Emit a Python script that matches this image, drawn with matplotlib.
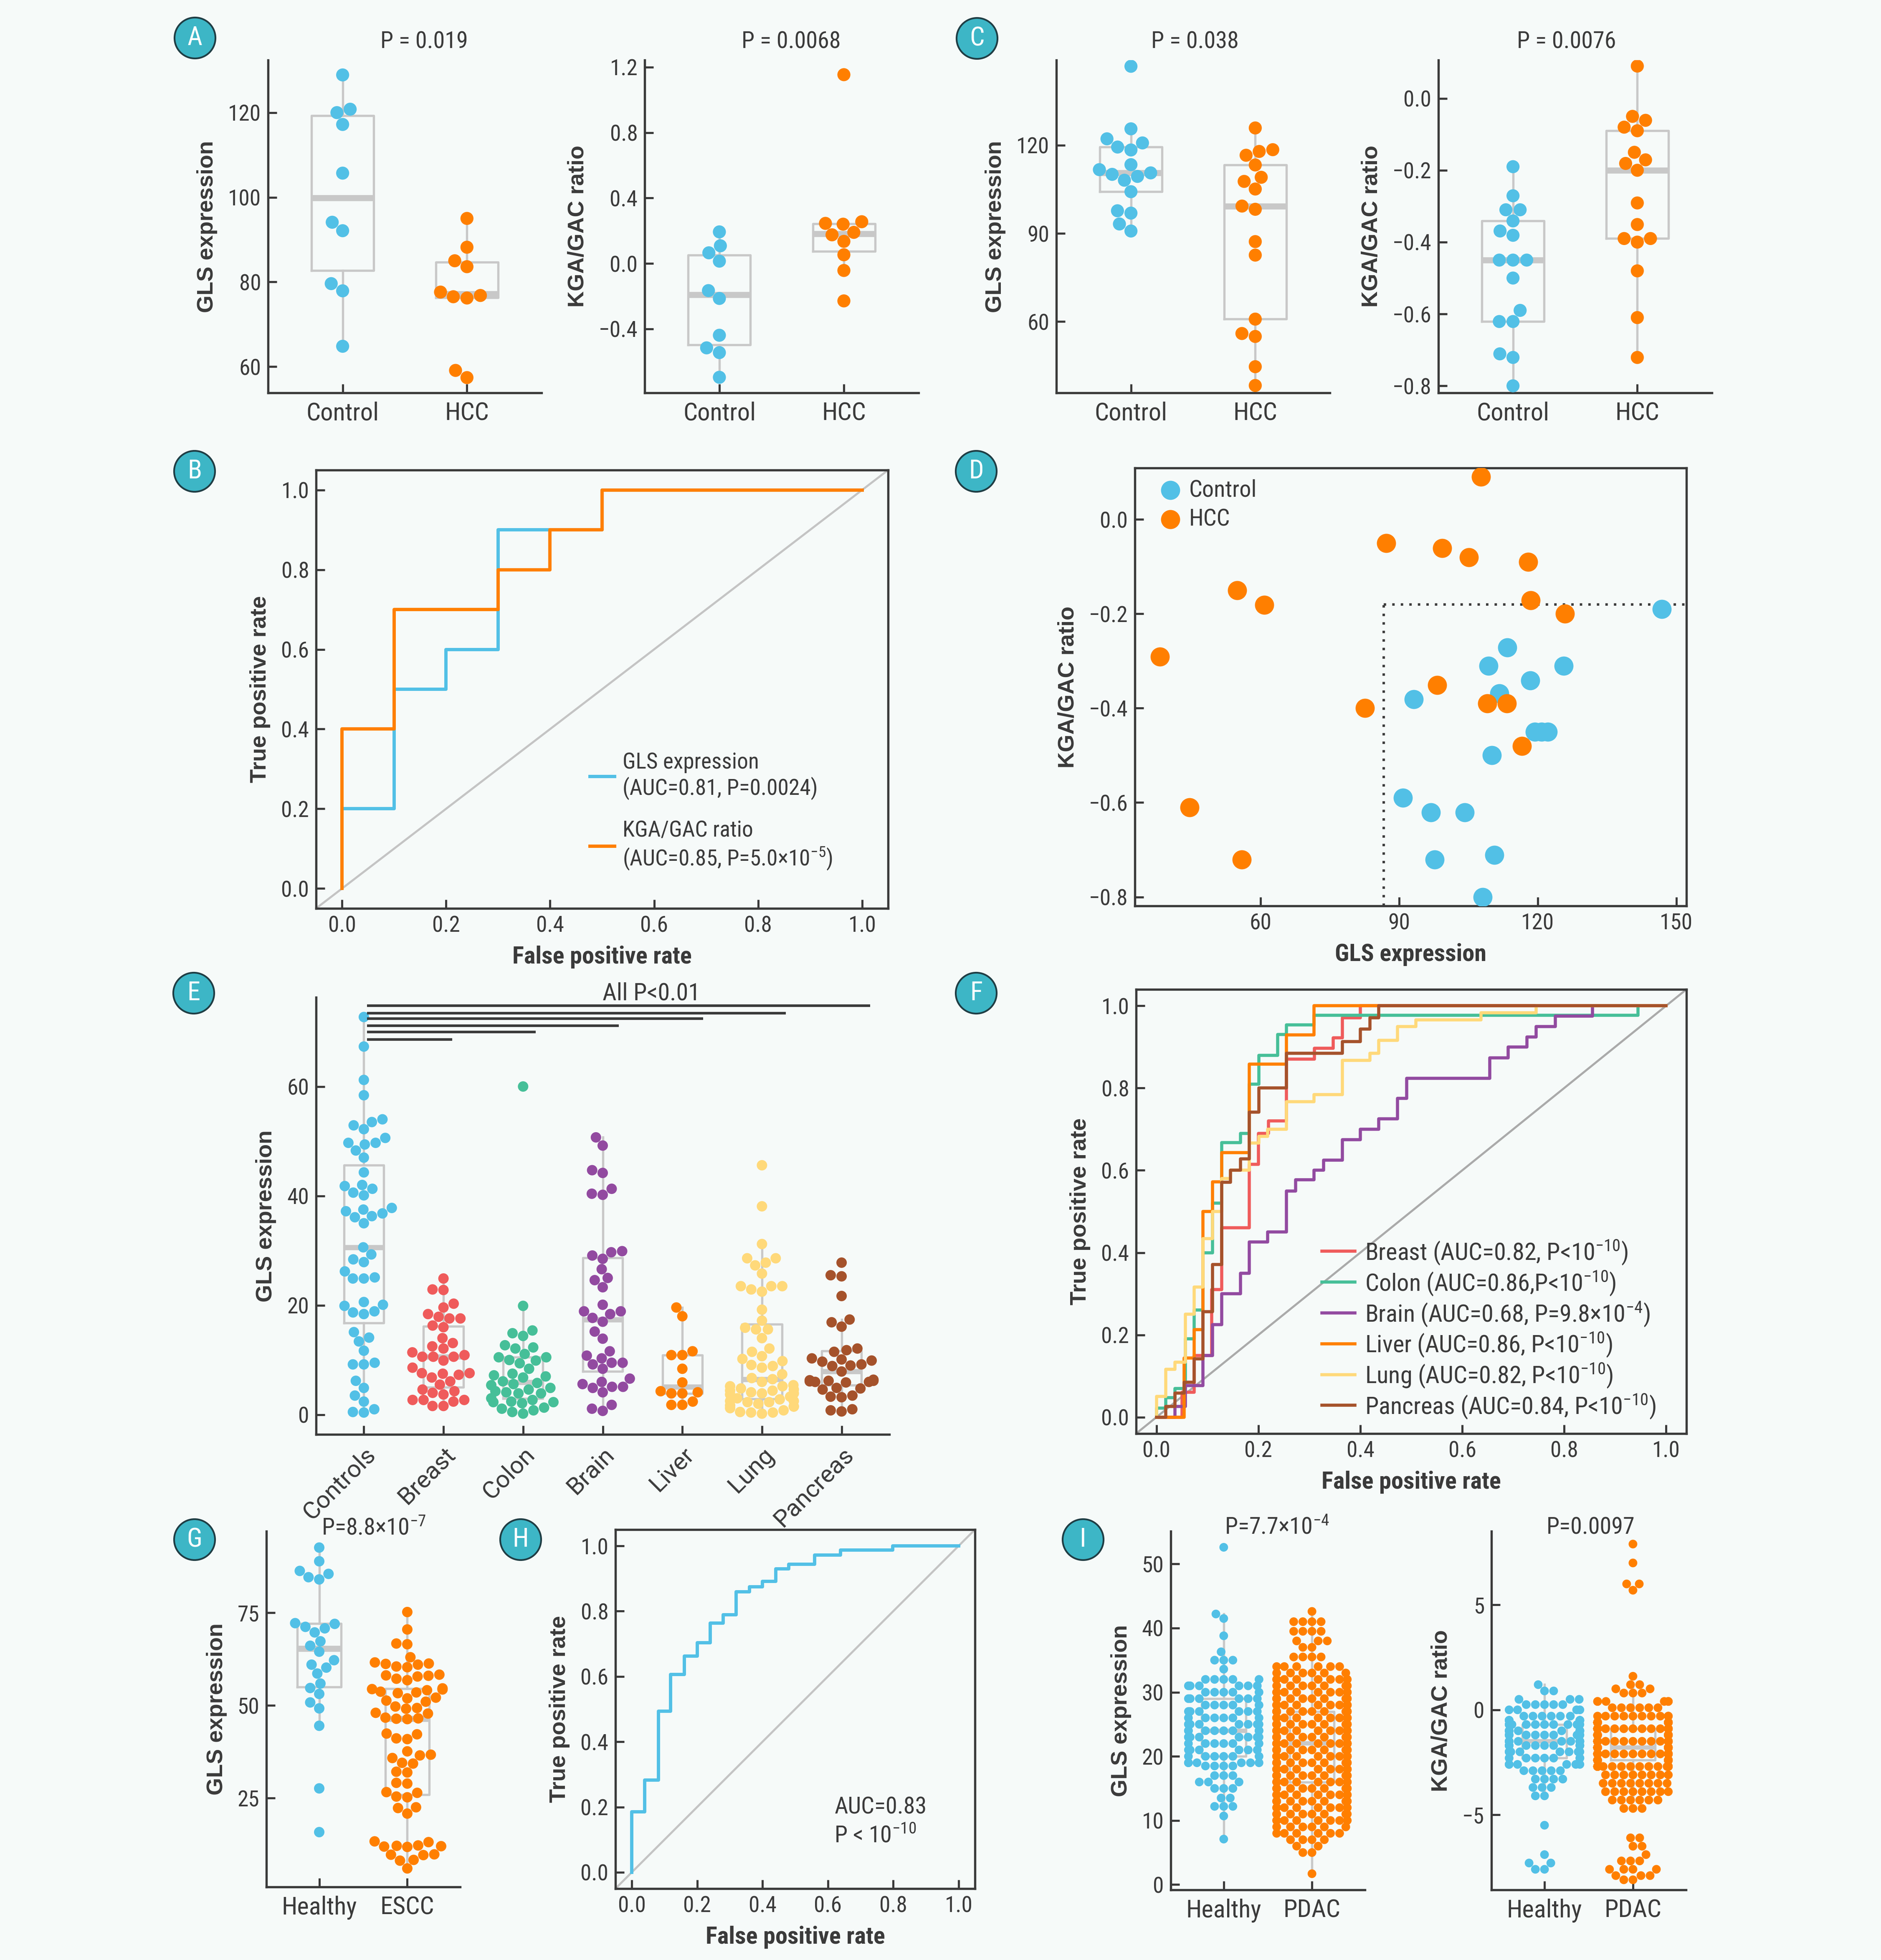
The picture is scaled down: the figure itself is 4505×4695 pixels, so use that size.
import numpy as np
import matplotlib
matplotlib.use('Agg')
import matplotlib.pyplot as plt
from matplotlib import font_manager
from matplotlib.patches import Ellipse
from matplotlib.ticker import FuncFormatter
import seaborn as sns
import warnings

warnings.filterwarnings('ignore')

# ---------------- data ----------------
# A: HCC cohort 1
a_gls_control = [128.9, 120.8, 120.0, 117.2, 105.7, 94.1, 92.1, 79.6, 77.9, 64.8]
a_gls_hcc = [95.0, 88.2, 85.0, 83.6, 77.6, 76.8, 76.5, 76.2, 59.1, 57.4]
a_ratio_control = [0.193, 0.108, 0.065, 0.014, -0.166, -0.214, -0.439, -0.516, -0.545, -0.696]
a_ratio_hcc = [1.154, 0.255, 0.245, 0.24, 0.19, 0.175, 0.135, 0.053, -0.043, -0.229]

# B: ROC for cohort 1
b_fpr_gls = [0, 0, 0.1, 0.2, 0.3, 0.4, 0.5, 1.0]
b_tpr_gls = [0, 0.2, 0.5, 0.6, 0.9, 0.9, 1.0, 1.0]
b_fpr_ratio = [0, 0, 0.1, 0.3, 0.4, 0.5, 1.0]
b_tpr_ratio = [0, 0.4, 0.7, 0.8, 0.9, 1.0, 1.0]

# C / D: HCC cohort 2 (same subjects in both)
c_gls_control = [146.9, 113.4, 109.4, 125.6, 118.4, 111.7, 93.2, 119.4, 120.8, 122.2,
                 110.1, 90.8, 96.9, 104.2, 97.7, 110.6, 108.1]
c_ratio_control = [-0.190, -0.271, -0.310, -0.310, -0.341, -0.369, -0.381, -0.450, -0.450, -0.450,
                   -0.500, -0.590, -0.621, -0.621, -0.721, -0.711, -0.800]
c_gls_hcc = [107.7, 87.2, 99.3, 105.1, 117.9, 54.9, 60.8, 118.5, 125.9, 38.2,
             98.2, 82.6, 109.1, 113.3, 116.6, 44.6, 55.9]
c_ratio_hcc = [0.090, -0.050, -0.061, -0.080, -0.090, -0.150, -0.181, -0.171, -0.200, -0.291,
               -0.351, -0.400, -0.390, -0.390, -0.480, -0.610, -0.721]
d_gls_cut = 86.7
d_ratio_cut = -0.18

# E: pan-cancer GLS expression
e_labels = ['Controls', 'Breast', 'Colon', 'Brain', 'Liver', 'Lung', 'Pancreas']
e_controls = [72.7, 67.3, 61.2, 58.4, 54.0, 53.5, 52.9, 52.2, 50.6, 49.7, 49.7, 49.4, 48.3, 47.0,
              44.3, 42.0, 41.8, 41.3, 40.6, 40.1, 37.8, 37.5, 37.2, 36.8, 36.3, 36.1, 35.0, 30.6,
              29.3, 28.4, 27.9, 26.2, 25.1, 24.9, 24.9, 20.6, 20.1, 19.9, 18.9, 18.7, 18.4, 15.1,
              14.1, 13.4, 11.7, 9.5, 9.2, 9.2, 6.2, 4.9, 3.5, 2.4, 1.0, 0.5, 0.4]
e_breast = [24.9, 22.8, 22.9, 20.3, 19.6, 18.4, 17.9, 17.6, 17.6, 16.3, 16.0, 14.0, 13.1, 12.5,
            12.1, 11.4, 10.9, 10.6, 10.6, 10.6, 9.9, 8.6, 7.6, 7.6, 7.3, 7.5, 6.8, 6.1, 5.5, 4.6,
            4.3, 4.0, 3.7, 2.7, 2.7, 2.7, 2.4, 1.6, 1.6]
e_colon = [60.0, 19.9, 15.4, 14.9, 14.4, 12.7, 12.3, 12.1, 11.1, 10.5, 10.5, 10.0, 9.9, 9.4, 8.4,
           7.5, 7.2, 7.0, 6.8, 6.1, 5.8, 5.6, 5.4, 4.9, 4.6, 4.3, 4.1, 3.9, 3.9, 3.0, 2.7, 2.4,
           2.3, 2.3, 2.1, 1.3, 1.1, 0.8, 0.5, 0.2]
e_brain = [50.7, 49.2, 44.7, 44.2, 41.3, 40.4, 40.2, 29.9, 29.7, 29.1, 28.5, 26.6, 25.0, 24.6,
           23.3, 20.1, 18.9, 18.9, 18.4, 17.7, 17.0, 15.2, 13.9, 11.6, 10.8, 10.3, 9.5, 9.5, 9.2,
           8.4, 6.6, 6.0, 5.6, 5.1, 5.1, 4.9, 4.1, 1.8, 1.1, 0.7]
e_liver = [19.6, 18.0, 11.6, 10.9, 10.9, 8.4, 5.9, 4.1, 4.3, 3.9, 3.9, 2.4, 1.8, 1.8]
e_lung = [45.6, 38.1, 31.2, 28.6, 28.6, 27.8, 27.3, 25.8, 23.5, 23.5, 23.5, 22.9, 22.5, 19.2,
          17.2, 15.9, 15.6, 15.6, 14.0, 12.1, 11.5, 10.7, 10.2, 9.8, 9.1, 8.9, 8.6, 7.4, 6.7,
          6.5, 6.0, 5.4, 5.2, 5.2, 4.8, 4.6, 4.4, 4.4, 4.1, 3.9, 3.9, 3.7, 3.3, 3.0, 2.8, 2.5,
          2.5, 2.3, 2.3, 2.0, 1.7, 1.5, 1.5, 1.2, 0.8, 0.5, 0.4, 0.4, 0.2]
e_pancreas = [27.8, 25.3, 25.5, 21.7, 17.4, 16.9, 16.1, 12.1, 11.8, 11.5, 10.3, 10.1, 9.9, 9.7,
              9.2, 9.0, 8.9, 7.9, 6.4, 6.3, 6.2, 6.2, 6.1, 6.0, 6.0, 5.9, 4.9, 4.8, 4.6, 3.5,
              3.3, 3.2, 1.0, 0.8, 0.6]
e_sig_end = [1.11, 2.16, 3.2, 4.26, 5.3, 6.36]
e_sig_y = [68.6, 70.0, 71.1, 72.4, 73.4, 74.8]

# F: ROC per cancer type
f_names = ['Breast', 'Colon', 'Brain', 'Liver', 'Lung', 'Pancreas']
f_legend = ['Breast (AUC=0.82, P<10$^{-10}$)', 'Colon (AUC=0.86,P<10$^{-10}$)',
            'Brain (AUC=0.68, P=9.8\u00d710$^{-4}$)', 'Liver (AUC=0.86, P<10$^{-10}$)',
            'Lung (AUC=0.82, P<10$^{-10}$)', 'Pancreas (AUC=0.84, P<10$^{-10}$)']
f_fpr = {
    'Breast': [0, 0.05, 0.074, 0.108, 0.128, 0.182, 0.2, 0.22, 0.255, 0.31, 0.347, 0.365, 0.40, 1.0],
    'Colon': [0, 0, 0.018, 0.036, 0.057, 0.074, 0.091, 0.110, 0.128, 0.165, 0.182, 0.201, 0.238,
              0.255, 0.309, 0.945, 1.0],
    'Brain': [0, 0.036, 0.057, 0.091, 0.110, 0.128, 0.165, 0.182, 0.218, 0.255, 0.273, 0.309, 0.328,
              0.365, 0.40, 0.436, 0.473, 0.491, 0.654, 0.69, 0.727, 0.745, 0.783, 0.856, 1.0],
    'Liver': [0, 0.054, 0.074, 0.091, 0.110, 0.128, 0.182, 0.255, 0.309, 1.0],
    'Lung': [0, 0, 0.018, 0.036, 0.057, 0.074, 0.091, 0.110, 0.128, 0.145, 0.182, 0.201, 0.218,
             0.255, 0.309, 0.365, 0.419, 0.436, 0.473, 0.509, 0.637, 0.745, 1.0],
    'Pancreas': [0, 0.018, 0.036, 0.054, 0.074, 0.091, 0.110, 0.128, 0.145, 0.165, 0.182, 0.201,
                 0.255, 0.365, 0.40, 0.419, 0.436, 1.0],
}
f_tpr = {
    'Breast': [0, 0.06, 0.15, 0.31, 0.46, 0.615, 0.69, 0.72, 0.87, 0.897, 0.922, 0.971, 1.0, 1.0],
    'Colon': [0, 0.022, 0.047, 0.07, 0.19, 0.26, 0.40, 0.52, 0.667, 0.69, 0.81, 0.88, 0.93,
              0.954, 0.977, 1.0, 1.0],
    'Brain': [0, 0.026, 0.077, 0.15, 0.225, 0.30, 0.35, 0.426, 0.45, 0.55, 0.577, 0.60, 0.625,
              0.675, 0.70, 0.725, 0.775, 0.824, 0.874, 0.90, 0.924, 0.95, 0.975, 1.0, 1.0],
    'Liver': [0, 0.144, 0.213, 0.50, 0.572, 0.643, 0.858, 0.929, 1.0, 1.0],
    'Lung': [0, 0.05, 0.116, 0.134, 0.25, 0.316, 0.434, 0.50, 0.58, 0.60, 0.666, 0.683, 0.70,
             0.767, 0.784, 0.867, 0.885, 0.916, 0.95, 0.966, 0.983, 1.0, 1.0],
    'Pancreas': [0, 0.026, 0.058, 0.085, 0.142, 0.256, 0.371, 0.571, 0.60, 0.628, 0.742, 0.80,
                 0.885, 0.913, 0.944, 0.971, 1.0, 1.0],
}

# G: ESCC cohort
g_healthy = [92.6, 88.9, 86.3, 85.5, 84.6, 84.0, 72.2, 72.0, 71.2, 70.8, 69.7, 67.3, 66.1,
             64.5, 62.2, 61.0, 60.2, 58.6, 55.9, 54.7, 53.1, 50.8, 49.2, 44.5, 27.6, 15.8]
g_escc = [75.2, 70.5, 66.7, 66.5, 63.0, 61.6, 61.3, 61.2, 61.0, 60.5, 60.3, 58.3, 58.1, 58.0,
          57.8, 57.2, 56.8, 54.6, 54.4, 54.3, 54.1, 53.7, 53.5, 53.3, 52.1, 51.9, 51.3, 51.0,
          49.7, 49.3, 49.1, 48.0, 47.8, 46.7, 46.5, 46.4, 46.3, 42.4, 42.2, 41.1, 40.9, 37.6,
          36.7, 36.5, 35.8, 34.5, 34.3, 32.1, 31.9, 29.1, 28.9, 26.6, 26.4, 25.4, 25.2, 22.5,
          22.3, 20.8, 13.3, 13.1, 12.2, 12.1, 12.0, 11.9, 11.8, 9.8, 9.7, 9.6, 8.3, 8.1, 6.0]

# H: ROC ESCC
h_fpr = [0, 0, 0.04, 0.081, 0.119, 0.161, 0.2, 0.24, 0.279, 0.319, 0.36, 0.4, 0.44, 0.48,
         0.56, 0.639, 0.798, 1.0]
h_tpr = [0, 0.185, 0.283, 0.493, 0.606, 0.663, 0.704, 0.763, 0.789, 0.859, 0.875, 0.891,
         0.93, 0.944, 0.972, 0.987, 1.0, 1.0]

# I: PDAC cohort, values with the number of dots at each value
i_gls_healthy_vals = [52.6, 42.2, 41.5, 38.8, 36.3, 35.0, 33.6, 32, 31, 30, 29, 28, 27, 26, 25,
                      24, 23, 22, 21, 20, 19, 18.5, 17, 16, 15, 13.5, 12.2, 10.7, 7.1]
i_gls_healthy_counts = [1, 1, 1, 1, 1, 3, 1, 5, 6, 5, 6, 5, 6, 6, 8, 8, 8, 6, 6, 6, 6, 4, 3, 3,
                        3, 2, 3, 1, 1]
i_gls_pdac_vals = [42.6, 41, 39.5, 38, 37, 35.5, 34, 33, 32, 31, 30, 29, 28, 27, 26, 25, 24, 23,
                   22, 21, 20, 19, 18, 17, 16, 15, 14, 13, 12, 11, 10, 9, 8, 7, 6, 5, 1.7]
i_gls_pdac_counts = [1, 4, 4, 3, 2, 4, 6, 6, 8, 8, 10, 12, 14, 15, 16, 16, 16, 16, 16, 16, 15,
                     14, 14, 12, 10, 10, 10, 10, 8, 8, 8, 6, 6, 4, 2, 2, 1]
i_ratio_healthy_vals = [1.2, 0.9, 0.5, 0.25, 0.0, -0.3, -0.5, -0.7, -1.0, -1.2, -1.5, -1.7,
                        -2.0, -2.3, -2.6, -2.9, -3.3, -3.7, -4.1, -5.5, -6.9, -7.3, -7.6]
i_ratio_healthy_counts = [1, 2, 3, 5, 4, 6, 8, 10, 10, 10, 10, 10, 8, 7, 6, 5, 4, 3, 2, 1, 1, 2, 2]
i_ratio_pdac_vals = [7.9, 7.0, 6.0, 5.7, 1.6, 1.2, 1.0, 0.8, 0.4, 0.1, -0.3, -0.6, -0.9, -1.2,
                     -1.5, -1.8, -2.1, -2.4, -2.7, -3.1, -3.5, -3.9, -4.3, -4.7, -6.1, -6.5,
                     -6.9, -7.2, -7.6, -7.9, -8.1]
i_ratio_pdac_counts = [1, 1, 2, 1, 1, 2, 2, 3, 6, 6, 10, 22, 27, 30, 33, 33, 30, 26, 19, 8, 8,
                       8, 6, 3, 2, 2, 1, 3, 4, 3, 2]

# ---------------- style ----------------
BG = '#f6faf9'
SPINE = '#3a3a3a'
TXT = '#3a3a3a'
BOXC = '#c8c8c8'
BLUE = '#52c0e6'
ORANGE = '#ff7f00'
E_COLORS = [BLUE, '#ef5b5b', '#46bf98', '#924aa0', ORANGE, '#ffd97a', '#a5522b']
F_COLORS = E_COLORS[1:]

installed = {f.name for f in font_manager.fontManager.ttflist}
COND = 'Roboto Condensed' if 'Roboto Condensed' in installed else 'Liberation Sans Narrow'
plt.rcParams['font.family'] = [COND, 'DejaVu Sans']
plt.rcParams['mathtext.fontset'] = 'custom'
plt.rcParams['mathtext.rm'] = COND
plt.rcParams['mathtext.it'] = COND
plt.rcParams['mathtext.bf'] = COND
YLAB = dict(family=['Liberation Sans', 'DejaVu Sans'], weight='bold', size=13, color=TXT)
XLAB = dict(family=[COND, 'DejaVu Sans'], weight='bold', size=14, color=TXT)

W, H, DPI = 4505, 4695, 300
fig = plt.figure(figsize=(W / DPI, H / DPI), dpi=DPI, facecolor=BG)


def px_axes(l, r, t, b):
    # axes placed with pixel edges of the 4505x4695 canvas
    ax = fig.add_axes([l / W, 1 - b / H, (r - l) / W, (b - t) / H])
    ax.set_facecolor('none')
    return ax


def style(ax, frame=False):
    for s in ['top', 'right']:
        ax.spines[s].set_visible(frame)
    for s in ax.spines.values():
        s.set_color(SPINE)
        s.set_linewidth(1.3)
    ax.tick_params(direction='in', length=5, width=1.2, colors=SPINE, labelcolor=TXT,
                   labelsize=12.8, pad=4)


def fmt1(v, pos):
    return f'{v:.1f}'.replace('-', '\u2212')


def box_swarm(ax, groups, labels, colors, size, med_lw=3.5):
    pos = np.arange(len(groups))
    ax.boxplot(groups, positions=pos, widths=0.5, whis=1.5, showfliers=False, showcaps=False,
               manage_ticks=False, zorder=1,
               boxprops=dict(color=BOXC, lw=1.3), whiskerprops=dict(color=BOXC, lw=1.3),
               medianprops=dict(color=BOXC, lw=med_lw, solid_capstyle='butt'))
    cats = np.concatenate([[lab] * len(g) for lab, g in zip(labels, groups)])
    vals = np.concatenate([np.asarray(g, float) for g in groups])
    sns.swarmplot(x=cats, y=vals, hue=cats, order=labels, hue_order=labels, palette=colors,
                  size=size, ax=ax, legend=False, zorder=3, warn_thresh=1)
    style(ax)
    ax.set_xlim(-0.6, len(groups) - 0.4)
    ax.set_xticks(pos)
    ax.set_xticklabels(labels)
    ax.set_xlabel('')
    ax.tick_params(axis='x', labelsize=14.5, pad=5)


def panel_label(letter, cx, cy):
    fig.add_artist(Ellipse((cx / W, 1 - cy / H), 98 / W, 98 / H, transform=fig.transFigure,
                           facecolor='#3db6c6', edgecolor='#1f3d44', lw=1.0))
    fig.text(cx / W, 1 - cy / H, letter, color='white', fontsize=15, ha='center', va='center')


def title(txt, cx, cy):
    fig.text(cx / W, 1 - cy / H, txt, fontsize=13.5, color=TXT, ha='center', va='center')


def roc_axes(ax, lim):
    style(ax, frame=True)
    ax.plot([lim[0], lim[1]], [lim[0], lim[1]], color='#c4c4c4', lw=1.2, zorder=1)
    ax.set_xlim(lim)
    ax.set_ylim(lim)
    ticks = [0, 0.2, 0.4, 0.6, 0.8, 1.0]
    ax.set_xticks(ticks)
    ax.set_yticks(ticks)
    ax.xaxis.set_major_formatter(FuncFormatter(fmt1))
    ax.yaxis.set_major_formatter(FuncFormatter(fmt1))
    ax.set_xlabel('False positive rate', labelpad=5, **XLAB)
    ax.set_ylabel('True positive rate', labelpad=6, **YLAB)


# ---------------- A ----------------
ax = px_axes(642, 1297, 144, 941)
box_swarm(ax, [a_gls_control, a_gls_hcc], ['Control', 'HCC'], [BLUE, ORANGE], 7.5)
ax.set_ylim(53.8, 132.4)
ax.set_yticks([60, 80, 100, 120])
ax.set_ylabel('GLS expression', labelpad=6, **YLAB)
title('P = 0.019', 1016, 100)

ax = px_axes(1544, 2200, 144, 941)
box_swarm(ax, [a_ratio_control, a_ratio_hcc], ['Control', 'HCC'], [BLUE, ORANGE], 7.5)
ax.set_ylim(-0.791, 1.243)
ax.set_yticks([-0.4, 0.0, 0.4, 0.8, 1.2])
ax.yaxis.set_major_formatter(FuncFormatter(fmt1))
ax.set_ylabel('KGA/GAC ratio', labelpad=6, **YLAB)
title('P = 0.0068', 1895, 100)

# ---------------- C ----------------
ax = px_axes(2530, 3185, 144, 941)
box_swarm(ax, [c_gls_control, c_gls_hcc], ['Control', 'HCC'], [BLUE, ORANGE], 7.5)
ax.set_ylim(35.7, 149.0)
ax.set_yticks([60, 90, 120])
ax.set_ylabel('GLS expression', labelpad=6, **YLAB)
title('P = 0.038', 2862, 100)

ax = px_axes(3445, 4100, 144, 941)
box_swarm(ax, [c_ratio_control, c_ratio_hcc], ['Control', 'HCC'], [BLUE, ORANGE], 7.5)
ax.set_ylim(-0.8195, 0.1066)
ax.set_yticks([-0.8, -0.6, -0.4, -0.2, 0.0])
ax.yaxis.set_major_formatter(FuncFormatter(fmt1))
ax.set_ylabel('KGA/GAC ratio', labelpad=6, **YLAB)
title('P = 0.0076', 3752, 100)

# ---------------- B ----------------
ax = px_axes(757, 2127, 1126, 2176)
roc_axes(ax, (-0.05, 1.05))
ax.plot(b_fpr_gls, b_tpr_gls, drawstyle='steps-post', color=BLUE, lw=1.9, zorder=2,
        label='GLS expression\n(AUC=0.81, P=0.0024)')
ax.plot(b_fpr_ratio, b_tpr_ratio, drawstyle='steps-post', color=ORANGE, lw=1.9, zorder=3,
        label='KGA/GAC ratio\n(AUC=0.85, P=5.0\u00d710$^{-5}$)')
ax.legend(loc='lower left', bbox_to_anchor=(0.479, 0.085), frameon=False, fontsize=12.8,
          borderpad=0, borderaxespad=0, handlelength=1.1, handletextpad=0.35,
          labelspacing=0.9, labelcolor=TXT)

# ---------------- D ----------------
ax = px_axes(2718, 4039, 1121, 2170)
style(ax, frame=True)
ax.scatter(c_gls_control, c_ratio_control, s=11 ** 2, color=BLUE, lw=0, zorder=3, label='Control')
ax.scatter(c_gls_hcc, c_ratio_hcc, s=11 ** 2, color=ORANGE, lw=0, zorder=3, label='HCC')
ax.set_xlim(32.8, 152.2)
ax.set_ylim(-0.819, 0.109)
ax.plot([d_gls_cut, d_gls_cut], [ax.get_ylim()[0], d_ratio_cut], color=SPINE, lw=1.4,
        ls=(0, (1, 2.5)), zorder=2)
ax.plot([d_gls_cut, ax.get_xlim()[1]], [d_ratio_cut, d_ratio_cut], color=SPINE, lw=1.4,
        ls=(0, (1, 2.5)), zorder=2)
ax.set_xticks([60, 90, 120, 150])
ax.set_yticks([-0.8, -0.6, -0.4, -0.2, 0.0])
ax.yaxis.set_major_formatter(FuncFormatter(fmt1))
ax.set_xlabel('GLS expression', labelpad=5, **XLAB)
ax.set_ylabel('KGA/GAC ratio', labelpad=6, **YLAB)
ax.legend(loc='upper left', bbox_to_anchor=(0.045, 0.975), frameon=False, fontsize=13.5,
          borderpad=0, borderaxespad=0, handlelength=0.9, handletextpad=0.35,
          labelspacing=0.3, labelcolor=TXT, scatterpoints=1)

# ---------------- E ----------------
ax = px_axes(757, 2130, 2389, 3436)
box_swarm(ax, [e_controls, e_breast, e_colon, e_brain, e_liver, e_lung, e_pancreas],
          e_labels, E_COLORS, 6.0, med_lw=3.0)
ax.set_xlim(-0.6, 6.6)
ax.set_ylim(-3.6, 76.3)
ax.set_yticks([0, 20, 40, 60])
ax.set_ylabel('GLS expression', labelpad=6, **YLAB)
ax.set_xticklabels(e_labels, rotation=45, ha='right', va='top', rotation_mode='anchor',
                   family=['Roboto', 'DejaVu Sans'], fontsize=14)
ax.hlines(e_sig_y, 0.04, e_sig_end, color=SPINE, lw=1.5, clip_on=False, zorder=4)
ax.text(3.61, 77.0, 'All P<0.01', ha='center', va='center', fontsize=14, color=TXT,
        clip_on=False)

# ---------------- F ----------------
ax = px_axes(2721, 4039, 2370, 3434)
roc_axes(ax, (-0.04, 1.04))
ax.lines[0].set_color('#aaaaaa')
for name, lab, col in zip(f_names, f_legend, F_COLORS):
    ax.plot(f_fpr[name], f_tpr[name], drawstyle='steps-post', color=col, lw=1.8, label=lab,
            zorder=2)
ax.legend(loc='lower left', bbox_to_anchor=(0.338, 0.03), frameon=False, fontsize=14,
          borderpad=0, borderaxespad=0, handlelength=1.35, handletextpad=0.4,
          labelspacing=0.12, labelcolor=TXT)

# ---------------- G ----------------
ax = px_axes(638, 1102, 3668, 4520)
box_swarm(ax, [g_healthy, g_escc], ['Healthy', 'ESCC'], [BLUE, ORANGE], 6.0)
ax.set_ylim(1.0, 97.0)
ax.set_yticks([25, 50, 75])
ax.set_ylabel('GLS expression', labelpad=6, **YLAB)
title('P=8.8\u00d710$^{-7}$', 895, 3661)

# ---------------- H ----------------
ax = px_axes(1474, 2335, 3664, 4524)
roc_axes(ax, (-0.05, 1.05))
ax.plot(h_fpr, h_tpr, drawstyle='steps-post', color=BLUE, lw=1.9, zorder=2)
ax.text(0.62, 0.2, 'AUC=0.83', fontsize=13.5, color=TXT, va='center')
ax.text(0.62, 0.113, 'P < 10$^{-10}$', fontsize=13.5, color=TXT, va='center')

# ---------------- I ----------------
ax = px_axes(2804, 3269, 3668, 4527)
box_swarm(ax, [np.repeat(i_gls_healthy_vals, i_gls_healthy_counts),
               np.repeat(i_gls_pdac_vals, i_gls_pdac_counts)],
          ['Healthy', 'PDAC'], [BLUE, ORANGE], 5.0, med_lw=2.5)
ax.set_ylim(-0.82, 55.1)
ax.set_yticks([0, 10, 20, 30, 40, 50])
ax.set_ylabel('GLS expression', labelpad=6, **YLAB)
title('P=7.7\u00d710$^{-4}$', 3058, 3659)

ax = px_axes(3572, 4038, 3668, 4527)
box_swarm(ax, [np.repeat(i_ratio_healthy_vals, i_ratio_healthy_counts),
               np.repeat(i_ratio_pdac_vals, i_ratio_pdac_counts)],
          ['Healthy', 'PDAC'], [BLUE, ORANGE], 5.0, med_lw=2.5)
ax.set_ylim(-8.58, 8.51)
ax.set_yticks([-5, 0, 5])
ax.set_ylabel('KGA/GAC ratio', labelpad=6, **YLAB)
title('P=0.0097', 3810, 3659)

# ---------------- panel letters ----------------
for letter, cx, cy in [('A', 467, 91), ('C', 2340, 92), ('B', 466, 1129), ('D', 2338, 1129),
                       ('E', 464, 2379), ('F', 2338, 2379), ('G', 466, 3688),
                       ('H', 1247, 3688), ('I', 2594, 3688)]:
    panel_label(letter, cx, cy)

fig.savefig('out.png', dpi=DPI, facecolor=BG)
